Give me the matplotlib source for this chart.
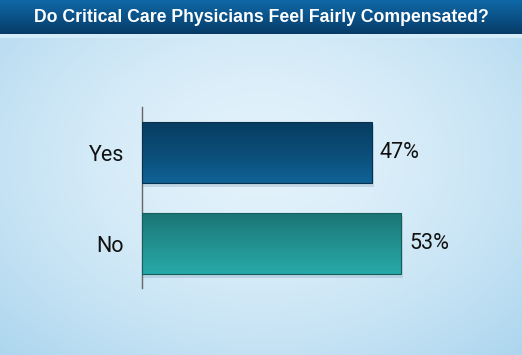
import numpy as np
import matplotlib
matplotlib.use("Agg")
import matplotlib.pyplot as plt
from matplotlib.colors import LinearSegmentedColormap
from matplotlib.patches import Rectangle

title = "Do Critical Care Physicians Feel Fairly Compensated?"
categories = ["Yes", "No"]
values = [47, 53]
value_labels = ["47%", "53%"]

W, H = 522, 355
fig = plt.figure(figsize=(W / 100, H / 100), dpi=100)

# background
bg = fig.add_axes([0, 0, 1, 1], zorder=0)
bg.set_axis_off()
yy, xx = np.mgrid[0:1:200j, 0:1:300j]
d = np.sqrt(((xx - 0.5) / 0.75) ** 2 + ((yy - 0.45) / 0.8) ** 2)
d = np.clip(d, 0, 1)
c_light = np.array([0.89, 0.95, 0.985])
c_dark = np.array([0.66, 0.83, 0.93])
img = c_light[None, None, :] * (1 - d[..., None] ** 1.6) + c_dark[None, None, :] * (d[..., None] ** 1.6)
bg.imshow(img, extent=[0, 1, 0, 1], aspect="auto", origin="upper")

# title band
band_h = 34 / H
band_cmap = LinearSegmentedColormap.from_list("band", ["#073b66", "#0b5289", "#0f68a6"])
grad = np.linspace(0, 1, 100).reshape(-1, 1)
bg.imshow(grad, extent=[0, 1, 1 - band_h, 1], aspect="auto", cmap=band_cmap, origin="lower", zorder=2)
bg.add_patch(Rectangle((0, 1 - band_h - 4 / H), 1, 4 / H, color="#d4ebf8", zorder=1.5, lw=0))
bg.set_xlim(0, 1)
bg.set_ylim(0, 1)
fig.text(0.5, 1 - 17.5 / H, title, ha="center", va="center", color="white",
         fontsize=12.7, fontweight="bold", family=["Liberation Sans", "DejaVu Sans"], zorder=5)

# main axes
left = 142 / W
x_max = 60
px_per = 230 / 47
width = x_max * px_per / W
top_px, bot_px = 107, 288
ax = fig.add_axes([left, 1 - bot_px / H, width, (bot_px - top_px) / H], zorder=2)
ax.patch.set_alpha(0)
y = np.arange(len(categories))
bars = ax.barh(y, values, height=0.67, color="none", edgecolor="none", zorder=3)

grads = [["#073d61", "#0b4d78", "#0f6294"], ["#1c7575", "#22908f", "#28a9a9"]]
edges = ["#06324f", "#145e5e"]
for b, g, ec in zip(bars, grads, edges):
    x0, y0 = b.get_x(), b.get_y()
    w, h = b.get_width(), b.get_height()
    # shadow
    ax.add_patch(Rectangle((x0 + 0.1, y0 + 0.03), w + 0.25, h + 0.015, color="#6f8fa6",
                           alpha=0.25, lw=0, zorder=2))
    cm = LinearSegmentedColormap.from_list("g", g)
    ax.imshow(np.linspace(0, 1, 100).reshape(-1, 1), extent=[x0, x0 + w, y0 + h, y0],
              aspect="auto", cmap=cm, origin="upper", zorder=3)
    ax.add_patch(Rectangle((x0, y0), w, h, fill=False, edgecolor=ec, lw=0.8, zorder=4))
ax.set_xlim(0, x_max)
ax.set_ylim(1.487, -0.503)

font = ["Roboto", "DejaVu Sans"]
for yi, v, lab in zip(y, values, value_labels):
    ax.text(v + 1.6, yi, lab, va="center", ha="left", fontsize=15.5, color="#111111",
            family=font, zorder=5)

ax.set_yticks(y)
ax.set_yticklabels(categories, fontsize=15.5, color="#111111", family=font)
ax.tick_params(axis="y", length=0, pad=13)
ax.set_xticks([])
for s in ["top", "right", "bottom"]:
    ax.spines[s].set_visible(False)
ax.spines["left"].set_color("#666666")
ax.spines["left"].set_linewidth(1.0)

fig.savefig("out.png", dpi=100)
